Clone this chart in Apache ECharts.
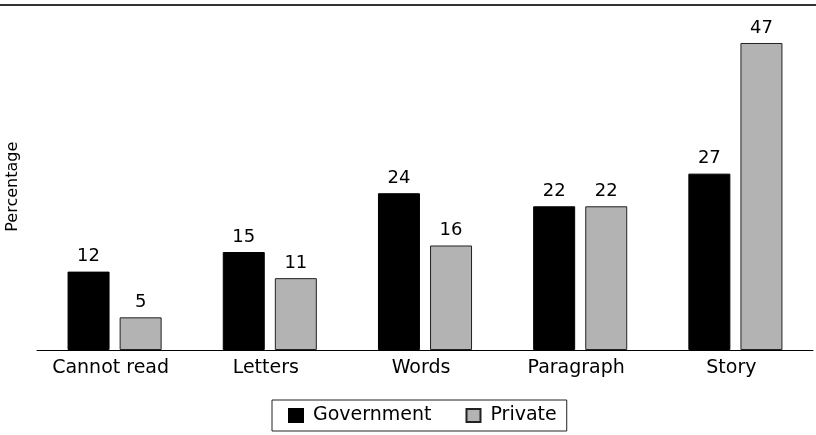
<!DOCTYPE html>
<html>
<head>
<meta charset="utf-8">
<script src="https://cdn.jsdelivr.net/npm/echarts@6/dist/echarts.min.js"></script>
<style>
  html, body { margin: 0; padding: 0; background: #fff; }
  #chart { width: 816px; height: 435px; }
</style>
</head>
<body>
<div id="chart"></div>
<script>
var categories = ['Cannot read', 'Letters', 'Words', 'Paragraph', 'Story'];
var government = [12, 15, 24, 22, 27];
var privateSchools = [5, 11, 16, 22, 47];

var myChart = echarts.init(document.getElementById('chart'));
var font = 'DejaVu Sans, sans-serif';

function barLabel() {
    return { show: true, position: 'top', distance: 6, color: '#000', fontSize: 18, fontFamily: font };
}

myChart.setOption({
    animation: false,
    textStyle: { fontFamily: font },
    grid: { left: 37, right: 3, top: 23.4, bottom: 85, outerBoundsMode: 'none', containLabel: false },
    graphic: [{
        type: 'line',
        shape: { x1: 0, y1: 5, x2: 816, y2: 5 },
        style: { stroke: '#333', lineWidth: 2 }
    }],
    legend: {
        bottom: 4,
        left: 272,
        icon: 'rect',
        itemWidth: 14,
        itemHeight: 13,
        itemGap: 34,
        padding: [6, 10, 6, 16],
        borderColor: '#222',
        borderWidth: 1,
        textStyle: { fontSize: 19, color: '#000', fontFamily: font, padding: [0, 0, 0, 5] },
        data: ['Government', 'Private']
    },
    xAxis: {
        type: 'category',
        data: categories,
        axisLine: { lineStyle: { color: '#000', width: 1 } },
        axisTick: { show: false },
        axisLabel: { color: '#000', fontSize: 19, margin: 9, fontFamily: font, padding: [0, 8, 0, 0] }
    },
    yAxis: {
        type: 'value',
        min: 0,
        max: 50,
        name: 'Percentage',
        nameLocation: 'middle',
        nameGap: 16,
        nameTextStyle: { color: '#000', fontSize: 16, fontFamily: font },
        axisLine: { show: false },
        axisTick: { show: false },
        axisLabel: { show: false },
        splitLine: { show: false }
    },
    series: [{
        name: 'Government',
        type: 'bar',
        data: government,
        barWidth: 42,
        barGap: '24%',
        itemStyle: { color: '#000', borderColor: '#000', borderWidth: 1 },
        label: barLabel()
    }, {
        name: 'Private',
        type: 'bar',
        data: privateSchools,
        barWidth: 42,
        itemStyle: { color: '#b3b3b3', borderColor: '#222', borderWidth: 1 },
        label: barLabel()
    }]
});

window.onresize = function(){
    myChart.resize();
};
</script>
</body>
</html>
